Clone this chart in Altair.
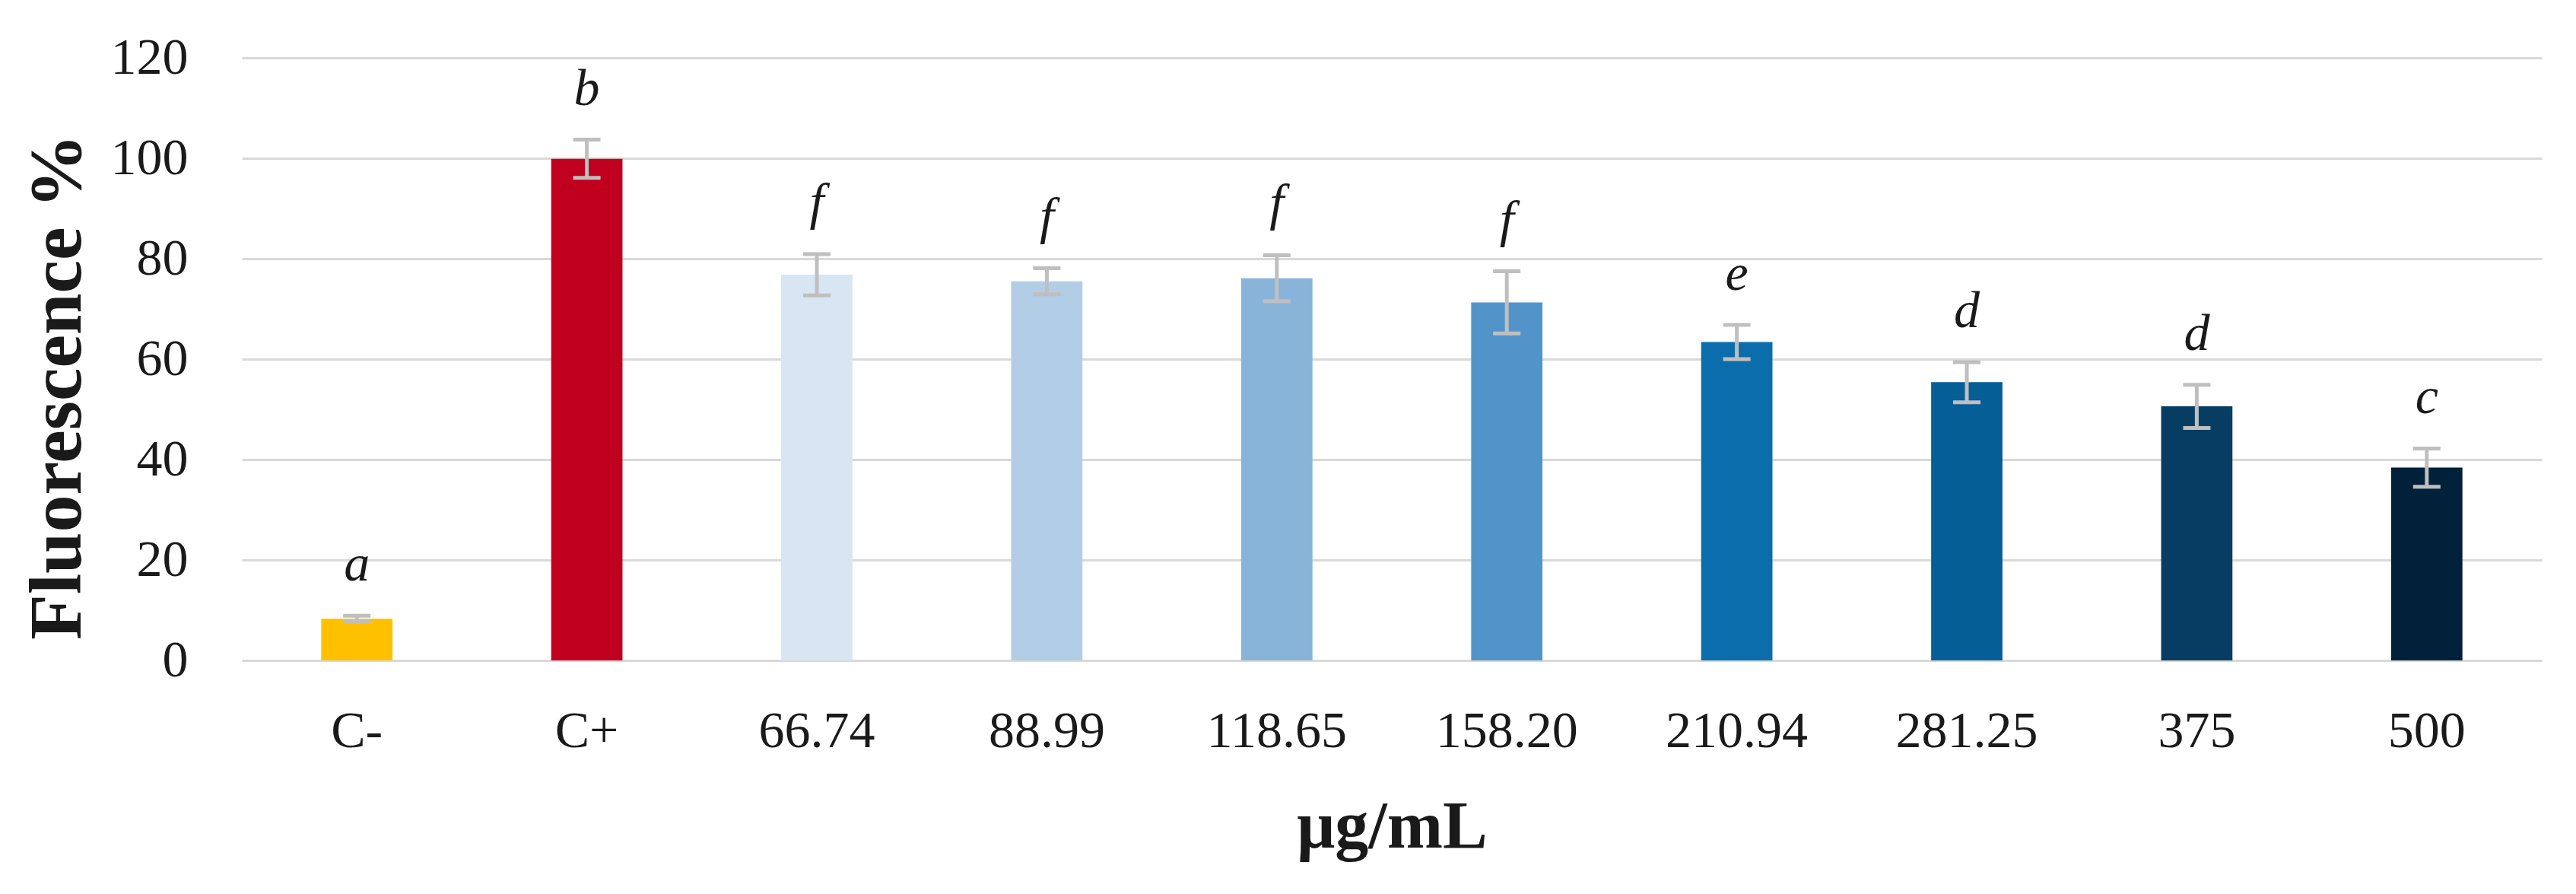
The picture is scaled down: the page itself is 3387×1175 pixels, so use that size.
import altair as alt
import pandas as pd


'''
Concentrations, mean fluorescence, error and significance letters
'''
groups = ['C-', 'C+', '66.74', '88.99', '118.65', '158.20', '210.94', '281.25', '375', '500']
means = [8.3, 99.9, 76.8, 75.5, 76.1, 71.3, 63.4, 55.4, 50.6, 38.4]
errors = [0.6, 3.8, 4.1, 2.6, 4.6, 6.2, 3.4, 4.0, 4.3, 3.8]
letters = ['a', 'b', 'f', 'f', 'f', 'f', 'e', 'd', 'd', 'c']
colors = [
  '#FFC000', '#C0001E', '#D8E5F2', '#B2CDE6', '#89B4DA',
  '#5294CA', '#0B6DAC', '#065E97', '#073C63', '#012039'
]
y_ticks = [0, 20, 40, 60, 80, 100, 120]

FONT = 'Liberation Serif'
TEXT = '#1a1a1a'

df = pd.DataFrame({
  'Grupo': groups,
  'Media': means,
  'Error': errors,
  'Letra': letters
})

'''
Base chart
'''
base = alt.Chart(df).transform_calculate(
  lo='datum.Media - datum.Error',
  hi='datum.Media + datum.Error'
).encode(
  x=alt.X(
    'Grupo:N',
    sort=groups,
    title='μg/mL',
    scale=alt.Scale(paddingInner=0.69, paddingOuter=0.345),
    axis=alt.Axis(
      labelAngle=0,
      labelFont=FONT,
      labelFontSize=68,
      labelColor=TEXT,
      labelPadding=93,
      labelBaseline='middle',
      labelLimit=0,
      ticks=False,
      tickSize=0,
      domain=False,
      titleFont=FONT,
      titleFontSize=88,
      titleFontWeight='bold',
      titleColor=TEXT,
      titleX=1512,
      titleY=219,
      titleBaseline='middle'
    )
  )
)

bars = base.mark_bar().encode(
  y=alt.Y(
    'Media:Q',
    title='Fluorescence %',
    scale=alt.Scale(domain=[0, 120]),
    axis=alt.Axis(
      values=y_ticks,
      grid=True,
      gridColor='#D9D9D9',
      gridWidth=3,
      domain=False,
      ticks=False,
      tickSize=0,
      labelFont=FONT,
      labelFontSize=68,
      labelColor=TEXT,
      labelPadding=71,
      titleFont=FONT,
      titleFontSize=98,
      titleFontWeight='bold',
      titleColor=TEXT,
      titleX=-242,
      titleY=432,
      titleBaseline='middle'
    )
  ),
  color=alt.Color('Grupo:N', scale=alt.Scale(domain=groups, range=colors), legend=None)
)

'''
Error bars
'''
stems = base.mark_rule(color='#BFBFBF', strokeWidth=5).encode(
  y='lo:Q',
  y2='hi:Q'
)

caps_low = base.mark_tick(color='#BFBFBF', size=36, thickness=5, opacity=1).encode(
  y='lo:Q'
)

caps_high = base.mark_tick(color='#BFBFBF', size=36, thickness=5, opacity=1).encode(
  y='hi:Q'
)

'''
Significance letters
'''
labels = base.mark_text(
  font=FONT,
  fontSize=68,
  fontStyle='italic',
  color=TEXT,
  baseline='alphabetic',
  dy=-46
).encode(
  y='hi:Q',
  text='Letra:N'
)

chart = alt.layer(bars, stems, caps_low, caps_high, labels).properties(
  width=3024,
  height=792,
  autosize=alt.AutoSizeParams(type='none'),
  padding={'left': 310, 'top': 68, 'right': 30, 'bottom': 280}
).configure(
  background='white'
).configure_view(
  stroke=None,
  strokeWidth=0
)

chart.save("out.html", embed_options={"renderer": "svg", "actions": False})
